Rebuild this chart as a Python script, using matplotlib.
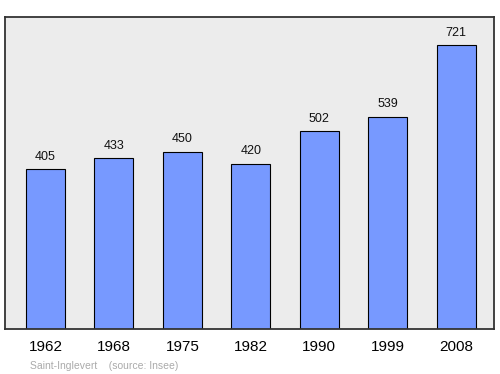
import matplotlib.pyplot as plt

# Données: population de Saint-Inglevert
annees = ["1962", "1968", "1975", "1982", "1990", "1999", "2008"]
population = [405, 433, 450, 420, 502, 539, 721]

plt.rcParams['font.family'] = ['Liberation Sans', 'DejaVu Sans']

fig = plt.figure(figsize=(5, 3.74), dpi=100)
ax = fig.add_axes([0.01, 0.1203, 0.978, 0.8342])
ax.set_facecolor('#ececec')

x = range(len(annees))
ax.bar(x, population, width=0.57, color='#7799ff', edgecolor='black', linewidth=0.8, zorder=2)

for i, v in zip(x, population):
    ax.text(i, v + 16, str(v), ha='center', va='bottom', fontsize=9, color='#111111')

ax.set_xlim(-0.59, 6.55)
ax.set_ylim(0, 792)
ax.set_yticks([])
ax.set_xticks(list(x))
ax.set_xticklabels(annees, fontsize=11)
ax.tick_params(axis='x', length=0, pad=8)

for s in ax.spines.values():
    s.set_color('#333333')
    s.set_linewidth(1.3)

fig.text(0.06, 0.014, "Saint-Inglevert    (source: Insee)", fontsize=7.5, color='#aaaaaa')

fig.savefig('out.png', dpi=100)
